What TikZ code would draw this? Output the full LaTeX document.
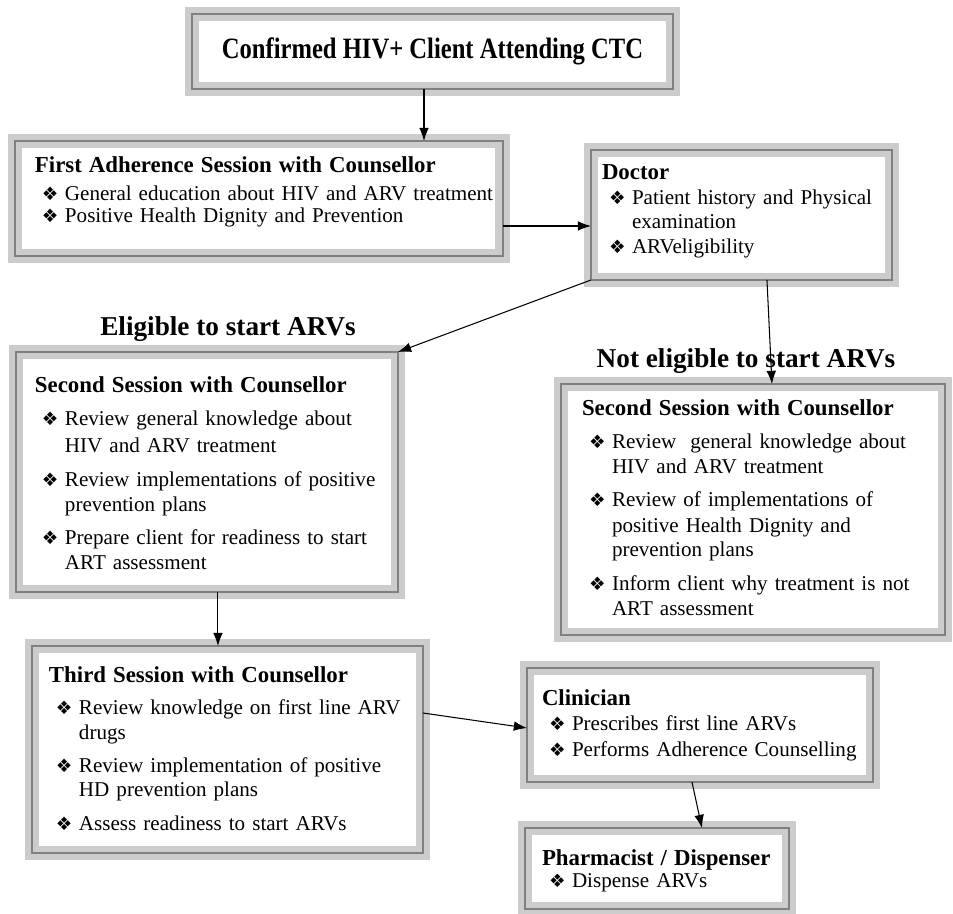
\documentclass[tikz,border=0pt]{standalone}
\usepackage{fontspec}
\setmainfont{Liberation Serif}
\newfontfamily\symf{DejaVu Sans}
\usetikzlibrary{arrows.meta,positioning}

\definecolor{bandgray}{RGB}{204,204,204}
\definecolor{rulegray}{RGB}{128,128,128}
\newlength{\px}\setlength{\px}{0.02cm}
\newcommand{\ttl}[1]{{\fontsize{13}{14}\selectfont\bfseries #1}}
\newcommand{\itm}[1]{\hspace*{7\px}\makebox[23\px][l]{\symf\fontsize{10.5}{10}\selectfont ❖}\mbox{#1}}
\newcommand{\cnt}[1]{\hspace*{30\px}\mbox{#1}}

\begin{document}
\begin{tikzpicture}[x=0.02cm,y=-0.02cm,>={Latex[length=7.5pt,width=5.5pt]},
  flowbox/.style={draw=bandgray,line width=3.8pt,double=rulegray,double distance=0.85pt,fill=white,
    inner ysep=0pt,outer sep=0pt,anchor=north west,align=left,font=\fontsize{12}{14}\selectfont},
  conn/.style={->,line width=0.6pt},
  heading/.style={font=\fontsize{15.5}{18}\selectfont\bfseries,anchor=base,inner sep=0pt}]
\useasboundingbox (0,0) rectangle (953,913);

\node[flowbox,anchor=center,align=center,inner sep=0pt,minimum width=9.62cm,minimum height=1.5cm] (b1) at (432.5,51.5)
  {\fontsize{14}{17}\selectfont\bfseries\scalebox{1}[1.2]{Confirmed HIV+ Client Attending CTC}};

\node[flowbox,inner xsep=0.4cm,text width=8.96cm,text height=0.64cm,text depth=1.66cm] (b2) at (15,141)
  {\ttl{First Adherence Session with Counsellor}\\[1.9pt]
   \itm{General education about HIV and ARV treatment}\\[-1.5pt]
   \itm{Positive Health Dignity and Prevention}};

\node[flowbox,inner xsep=0.22cm,text width=5.58cm,text height=0.6cm,text depth=2.0cm] (b3) at (591,150)
  {\ttl{Doctor}\\
   \itm{Patient history and Physical}\\[-0.4pt]
   \cnt{examination}\\
   \itm{ARVeligibility}};

\node[heading] (elig) at (228,335) {Eligible to start ARVs};
\node[heading] (notelig) at (746,367) {Not eligible to start ARVs};

\node[flowbox,inner xsep=0.38cm,text width=6.88cm,text height=0.82cm,text depth=3.98cm] (b4) at (16,352)
  {\ttl{Second Session with Counsellor}\\[4.7pt]
   \itm{Review general knowledge about}\\[1.3pt]
   \cnt{HIV and ARV treatment}\\[5.3pt]
   \itm{Review implementations of positive}\\
   \cnt{prevention plans}\\[4.7pt]
   \itm{Prepare client for readiness to start}\\[0.7pt]
   \cnt{ART assessment}};

\node[flowbox,inner xsep=0.42cm,text width=6.84cm,text height=0.62cm,text depth=4.4cm] (b5) at (561,384)
  {\ttl{Second Session with Counsellor}\\[5.3pt]
   \itm{Review~ general knowledge about}\\
   \cnt{HIV and ARV treatment}\\[4.7pt]
   \itm{Review of implementations of}\\[0.7pt]
   \cnt{positive Health Dignity and}\\
   \cnt{prevention plans}\\[5.3pt]
   \itm{Inform client why treatment is not}\\
   \cnt{ART assessment}};

\node[flowbox,inner xsep=0.34cm,text width=7.14cm,text height=0.72cm,text depth=3.42cm] (b6) at (32,646)
  {\ttl{Third Session with Counsellor}\\[4.7pt]
   \itm{Review knowledge on first line ARV}\\
   \cnt{drugs}\\[4.7pt]
   \itm{Review implementation of positive}\\
   \cnt{HD prevention plans}\\[5.3pt]
   \itm{Assess readiness to start ARVs}};

\node[flowbox,inner xsep=0.3cm,text width=6.32cm,text height=0.74cm,text depth=1.54cm] (b7) at (527,668)
  {\ttl{Clinician}\\[0.7pt]
   \itm{Prescribes first line ARVs}\\[0.7pt]
   \itm{Performs Adherence Counselling}};

\node[flowbox,inner xsep=0.34cm,text width=4.6cm,text height=0.74cm,text depth=0.88cm] (b8) at (525,828)
  {\ttl{Pharmacist / Dispenser}\\[-1pt]
   \itm{Dispense ARVs}};

\draw[conn] ([xshift=-0.17cm]b1.south) -- ([xshift=-0.17cm]b1.south |- b2.north);
\draw[conn] ([yshift=-0.55cm]b2.east) -- ([yshift=-0.55cm]b2.east -| b3.west);
\draw[conn] (b3.south west) -- (b4.north east);
\draw[conn] ([xshift=0.51cm]b3.south) -- ([xshift=0.38cm]b5.north);
\draw[conn] ([xshift=0.22cm]b4.south) -- ([xshift=0.22cm]b4.south |- b6.north);
\draw[conn] ([yshift=0.73cm]b6.east) -- ([yshift=-0.06cm]b7.west);
\draw[conn] ([xshift=-0.16cm]b7.south) -- ([xshift=0.9cm]b8.north);
\end{tikzpicture}
\end{document}
